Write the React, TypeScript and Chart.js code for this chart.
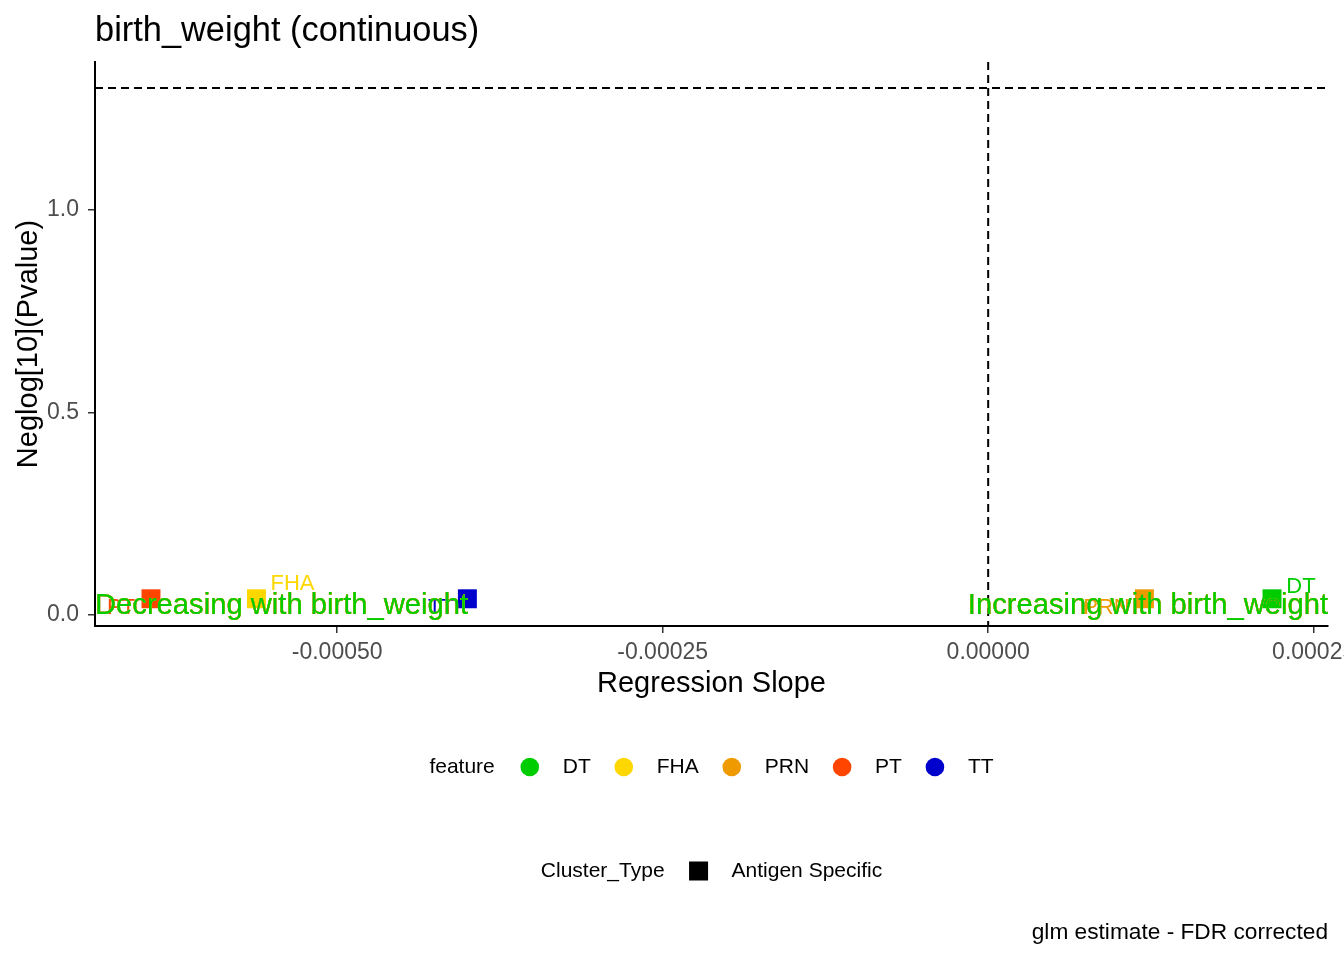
import React, { useEffect, useRef } from "react";
import { Chart, registerables } from "chart.js";

Chart.register(...registerables);

// ---- data ----
const features = ["DT", "FHA", "PRN", "PT", "TT"];
const slopes = [0.000218, -0.000562, 0.00012, -0.000643, -0.0004];
const negLogP = [0.04, 0.04, 0.04, 0.04, 0.04];
const featureColors = ["#00CD00", "#FFD700", "#EE9A00", "#FF4500", "#0000CD"];
const xTickValues = [-0.0005, -0.00025, 0, 0.00025];
const xTickLabels = ["-0.00050", "-0.00025", "0.00000", "0.00025"];
const yTickValues = [0, 0.5, 1];
const yTickLabels = ["0.0", "0.5", "1.0"];
const significanceLine = 1.30103;
const slopeZero = 0;
const titleText = "birth_weight (continuous)";
const xTitle = "Regression Slope";
const yTitle = "Neglog[10](Pvalue)";
const decreasingText = "Decreasing with birth_weight";
const increasingText = "Increasing with birth_weight";
const legendTitle1 = "feature";
const legendTitle2 = "Cluster_Type";
const clusterTypes = ["Antigen Specific"];
const captionText = "glm estimate - FDR corrected";

// ---- layout / style ----
const W = 1344;
const H = 960;
const FONT = "'Liberation Sans', Arial, sans-serif";
const labelOffsets: Record<string, [number, number]> = {
  DT: [29, -12],
  FHA: [36, -15],
  PRN: [-38, 9],
  PT: [-30, 9],
  TT: [-26, 9],
};

const overlayPlugin = {
  id: "overlay",
  beforeDatasetsDraw(chart: any) {
    const { ctx, chartArea, scales } = chart;
    ctx.save();
    ctx.beginPath();
    ctx.rect(chartArea.left, chartArea.top, chartArea.right - chartArea.left, chartArea.bottom - chartArea.top);
    ctx.clip();
    ctx.strokeStyle = "#000";
    ctx.lineWidth = 2;
    ctx.setLineDash([8, 5]);
    const yh = scales.y.getPixelForValue(significanceLine);
    ctx.beginPath();
    ctx.moveTo(chartArea.left, yh);
    ctx.lineTo(chartArea.right, yh);
    ctx.stroke();
    const xv = scales.x.getPixelForValue(slopeZero);
    ctx.beginPath();
    ctx.moveTo(xv, chartArea.top);
    ctx.lineTo(xv, chartArea.bottom);
    ctx.stroke();
    ctx.restore();
  },
  afterDatasetsDraw(chart: any) {
    const { ctx, chartArea, scales } = chart;
    const meta = chart.getDatasetMeta(0);
    ctx.save();
    // point labels
    ctx.font = `22px ${FONT}`;
    ctx.textAlign = "center";
    ctx.textBaseline = "middle";
    meta.data.forEach((pt: any, i: number) => {
      const off = labelOffsets[features[i]] || [0, 0];
      ctx.fillStyle = featureColors[i];
      ctx.fillText(features[i], pt.x + off[0], pt.y + off[1]);
    });
    // annotations (drawn once per feature colour, green last)
    const y0 = scales.y.getPixelForValue(0);
    ctx.font = `29.2px ${FONT}`;
    ctx.textBaseline = "alphabetic";
    const order = [4, 3, 2, 1, 0];
    order.forEach((i) => {
      ctx.fillStyle = featureColors[i];
      ctx.textAlign = "left";
      ctx.fillText(decreasingText, chartArea.left, y0 - 1);
      ctx.textAlign = "right";
      ctx.fillText(increasingText, chartArea.right, y0 - 1);
    });
    ctx.restore();
  },
  afterDraw(chart: any) {
    const { ctx, chartArea } = chart;
    ctx.save();
    // title
    ctx.fillStyle = "#000";
    ctx.font = `34.4px ${FONT}`;
    ctx.textAlign = "left";
    ctx.textBaseline = "alphabetic";
    ctx.fillText(titleText, chartArea.left, 41);
    // axis titles
    ctx.font = `29px ${FONT}`;
    ctx.textAlign = "center";
    ctx.textBaseline = "middle";
    const cx = (chartArea.left + chartArea.right) / 2;
    ctx.fillText(xTitle, cx, 684);
    ctx.save();
    ctx.translate(29, (chartArea.top + chartArea.bottom) / 2);
    ctx.rotate(-Math.PI / 2);
    ctx.fillText(yTitle, 0, 0);
    ctx.restore();

    // legend 1
    ctx.font = `21px ${FONT}`;
    ctx.textAlign = "left";
    ctx.textBaseline = "middle";
    const titleW1 = ctx.measureText(legendTitle1).width;
    const gapTitle = 35;
    const keyToLabel = 33;
    const labelToKey = 33;
    const labelWs = features.map((f) => ctx.measureText(f).width);
    const total1 =
      titleW1 + gapTitle + features.length * keyToLabel + labelWs.reduce((a, b) => a + b, 0) + (features.length - 1) * labelToKey;
    let x = cx - total1 / 2;
    const ly1 = 767;
    ctx.fillStyle = "#000";
    ctx.fillText(legendTitle1, x, ly1);
    x += titleW1 + gapTitle;
    features.forEach((f, i) => {
      ctx.fillStyle = featureColors[i];
      ctx.beginPath();
      ctx.arc(x, ly1, 9.3, 0, Math.PI * 2);
      ctx.fill();
      ctx.fillStyle = "#000";
      ctx.fillText(f, x + keyToLabel, ly1);
      x += keyToLabel + labelWs[i] + labelToKey;
    });

    // legend 2
    const ly2 = 871;
    const titleW2 = ctx.measureText(legendTitle2).width;
    const lab2W = ctx.measureText(clusterTypes[0]).width;
    const total2 = titleW2 + 34 + keyToLabel + lab2W;
    let x2 = cx - total2 / 2;
    ctx.fillText(legendTitle2, x2, ly2);
    x2 += titleW2 + 34;
    ctx.fillRect(x2 - 9.5, ly2 - 9.5, 19, 19);
    ctx.fillText(clusterTypes[0], x2 + keyToLabel, ly2);

    // caption
    ctx.font = `22.7px ${FONT}`;
    ctx.textAlign = "right";
    ctx.fillText(captionText, chartArea.right, 933);
    ctx.restore();
  },
};

export default function App() {
  const ref = useRef<HTMLCanvasElement | null>(null);
  useEffect(() => {
    if (!ref.current) return;
    const chart = new Chart(ref.current, {
      type: "scatter",
      data: {
        datasets: [
          {
            data: features.map((f, i) => ({ x: slopes[i], y: negLogP[i] })),
            backgroundColor: featureColors,
            pointStyle: "rect",
            pointRadius: 13.4,
            pointHoverRadius: 13.4,
            pointBorderWidth: 0,
          },
        ],
      },
      options: {
        animation: false,
        responsive: false,
        devicePixelRatio: 1,
        events: [],
        layout: { padding: { left: 0, right: 16, top: 62, bottom: 0 } },
        plugins: { legend: { display: false }, tooltip: { enabled: false }, title: { display: false } },
        scales: {
          x: {
            type: "linear",
            min: -0.000686,
            max: 0.000261,
            afterBuildTicks: (scale: any) => {
              scale.ticks = xTickValues.map((v) => ({ value: v }));
            },
            afterFit: (scale: any) => {
              scale.height = H - 626;
              scale.paddingLeft = 0;
              scale.paddingRight = 0;
            },
            ticks: {
              callback: (_v: any, i: number) => xTickLabels[i],
              font: { family: FONT, size: 23 },
              color: "#4D4D4D",
              padding: 6,
              maxRotation: 0,
              autoSkip: false,
            },
            grid: { drawOnChartArea: false, drawTicks: true, tickLength: 7, color: "#333333", lineWidth: 1.5 },
            border: { display: true, color: "#000", width: 2 },
          },
          y: {
            type: "linear",
            min: -0.0272,
            max: 1.365,
            afterBuildTicks: (scale: any) => {
              scale.ticks = yTickValues.map((v) => ({ value: v }));
            },
            afterFit: (scale: any) => {
              scale.width = 95;
              scale.paddingTop = 0;
              scale.paddingBottom = 0;
            },
            ticks: {
              callback: (_v: any, i: number) => yTickLabels[i],
              font: { family: FONT, size: 23 },
              color: "#4D4D4D",
              padding: 9,
              autoSkip: false,
            },
            grid: { drawOnChartArea: false, drawTicks: true, tickLength: 7, color: "#333333", lineWidth: 1.5 },
            border: { display: true, color: "#000", width: 2 },
          },
        },
      },
      plugins: [overlayPlugin],
    } as any);
    return () => chart.destroy();
  }, []);
  return (
    <div style={{ position: "absolute", left: 0, top: 0, width: W, height: H, background: "#fff" }}>
      <canvas ref={ref} width={W} height={H} style={{ width: W, height: H, display: "block" }} />
    </div>
  );
}
